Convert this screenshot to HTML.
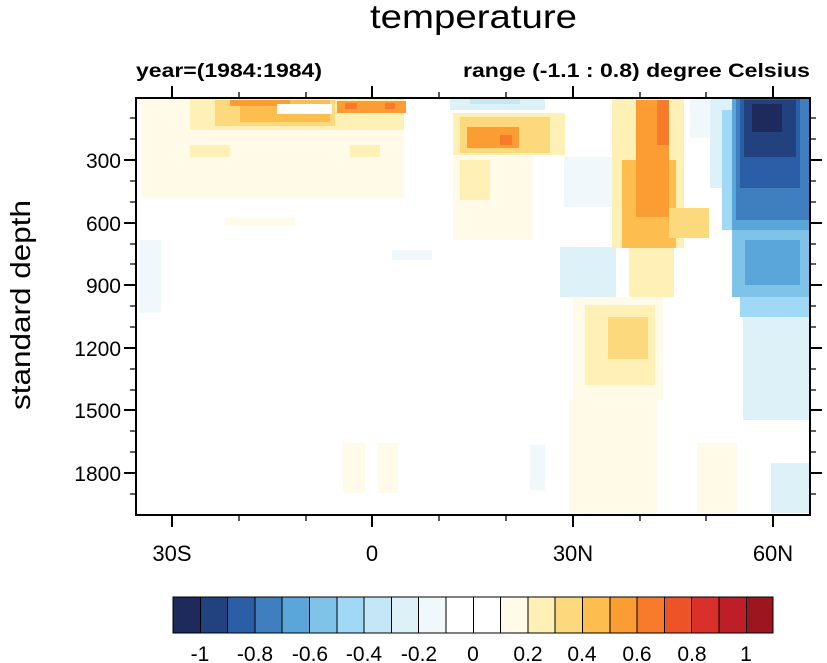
<!DOCTYPE html><html><head><style>body{margin:0;background:#fff}svg{display:block}text{font-family:"Liberation Sans",Arial,sans-serif}</style></head><body>
<svg width="827" height="663" xmlns="http://www.w3.org/2000/svg">
<text x="370" y="28" font-size="33" textLength="207" lengthAdjust="spacingAndGlyphs">temperature</text>
<text x="136" y="77" font-size="19" font-weight="bold" textLength="186" lengthAdjust="spacingAndGlyphs">year=(1984:1984)</text>
<text x="463" y="77" font-size="19" font-weight="bold" textLength="347" lengthAdjust="spacingAndGlyphs">range (-1.1 : 0.8) degree Celsius</text>
<g shape-rendering="crispEdges">
<rect x="142" y="98" width="262" height="100" fill="#fffbe8"/>
<rect x="190" y="98" width="214" height="32" fill="#fff0b5"/>
<rect x="215" y="100" width="120" height="26" fill="#fdd97d"/>
<rect x="240" y="100" width="90" height="22" fill="#fdbd4f"/>
<rect x="230" y="100" width="60" height="6" fill="#fb9d33"/>
<rect x="277" y="104" width="55" height="10" fill="#fff"/>
<rect x="337" y="101" width="69" height="12" fill="#fb9d33"/>
<rect x="345" y="103" width="12" height="6" fill="#f77b2a"/>
<rect x="385" y="103" width="10" height="6" fill="#f77b2a"/>
<rect x="190" y="145" width="40" height="12" fill="#fff0b5"/>
<rect x="350" y="145" width="30" height="12" fill="#fff0b5"/>
<rect x="225" y="218" width="70" height="8" fill="#fffbe8"/>
<rect x="139" y="240" width="22" height="73" fill="#f0f8fc"/>
<rect x="392" y="250" width="40" height="10" fill="#f0f8fc"/>
<rect x="450" y="98" width="95" height="12" fill="#ddf1f8"/>
<rect x="470" y="98" width="50" height="6" fill="#c3e7f7"/>
<rect x="453" y="155" width="80" height="85" fill="#fffbe8"/>
<rect x="460" y="160" width="30" height="40" fill="#fff0b5"/>
<rect x="453" y="113" width="112" height="42" fill="#fff0b5"/>
<rect x="460" y="117" width="90" height="36" fill="#fdd97d"/>
<rect x="467" y="127" width="52" height="21" fill="#fb9d33"/>
<rect x="500" y="135" width="12" height="10" fill="#f77b2a"/>
<rect x="564" y="157" width="52" height="50" fill="#f0f8fc"/>
<rect x="560" y="247" width="56" height="50" fill="#ddf1f8"/>
<rect x="569" y="400" width="88" height="115" fill="#fffbe8"/>
<rect x="573" y="297" width="90" height="103" fill="#fffbe8"/>
<rect x="585" y="305" width="70" height="80" fill="#fff0b5"/>
<rect x="608" y="317" width="40" height="42" fill="#fdd97d"/>
<rect x="697" y="443" width="40" height="72" fill="#fffbe8"/>
<rect x="343" y="443" width="22" height="50" fill="#fffbe8"/>
<rect x="378" y="443" width="20" height="50" fill="#fffbe8"/>
<rect x="612" y="98" width="72" height="150" fill="#fff0b5"/>
<rect x="629" y="247" width="45" height="50" fill="#fff0b5"/>
<rect x="622" y="160" width="54" height="88" fill="#fdbd4f"/>
<rect x="636" y="100" width="33" height="117" fill="#fb9d33"/>
<rect x="657" y="100" width="12" height="45" fill="#f77b2a"/>
<rect x="669" y="208" width="40" height="30" fill="#fdd97d"/>
<rect x="690" y="98" width="50" height="40" fill="#f0f8fc"/>
<rect x="710" y="98" width="30" height="90" fill="#ddf1f8"/>
<rect x="722" y="110" width="20" height="120" fill="#a0d9f5"/>
<rect x="743" y="317" width="67" height="103" fill="#ddf1f8"/>
<rect x="740" y="297" width="70" height="20" fill="#a0d9f5"/>
<rect x="732" y="230" width="78" height="67" fill="#7fc3e8"/>
<rect x="745" y="240" width="55" height="45" fill="#5aa5d9"/>
<rect x="732" y="98" width="78" height="132" fill="#5aa5d9"/>
<rect x="736" y="98" width="74" height="122" fill="#3f7fc0"/>
<rect x="740" y="98" width="60" height="90" fill="#2a5fa8"/>
<rect x="744" y="100" width="52" height="57" fill="#21427f"/>
<rect x="752" y="104" width="30" height="28" fill="#1e2a5c"/>
<rect x="771" y="463" width="39" height="50" fill="#ddf1f8"/>
<rect x="530" y="445" width="15" height="45" fill="#f0f8fc"/>
</g>
<rect x="136" y="98" width="674" height="417" fill="none" stroke="#000" stroke-width="2"/>
<g stroke="#000" stroke-width="2">
<path d="M124 160h12M124 223h12M124 285h12M124 348h12M124 410h12M124 473h12M810 160h12M810 223h12M810 285h12M810 348h12M810 410h12M810 473h12"/>
<path d="M172 515v12M372 515v12M573 515v12M773 515v12M172 98v-12M372 98v-12M573 98v-12M773 98v-12"/>
</g>
<g stroke="#000" stroke-width="1.3">
<path d="M130 118h6M130 139h6M130 181h6M130 202h6M130 244h6M130 264h6M130 306h6M130 327h6M130 369h6M130 390h6M130 431h6M130 452h6M130 494h6M810 118h6M810 139h6M810 181h6M810 202h6M810 244h6M810 264h6M810 306h6M810 327h6M810 369h6M810 390h6M810 431h6M810 452h6M810 494h6"/>
<path d="M239 515v6M306 515v6M439 515v6M506 515v6M640 515v6M706 515v6M239 98v-6M306 98v-6M439 98v-6M506 98v-6M640 98v-6M706 98v-6"/>
</g>
<g font-size="21" text-anchor="end">
<text x="121" y="168">300</text><text x="121" y="231">600</text><text x="121" y="293">900</text><text x="121" y="356">1200</text><text x="121" y="418">1500</text><text x="121" y="481">1800</text>
</g>
<text transform="translate(30,410) rotate(-90)" font-size="28" textLength="210" lengthAdjust="spacingAndGlyphs">standard depth</text>
<g font-size="22" text-anchor="middle">
<text x="172" y="561">30S</text><text x="372" y="561">0</text><text x="573" y="561">30N</text><text x="773" y="561">60N</text>
</g>
<g stroke="#000" stroke-width="1" shape-rendering="crispEdges">
<rect x="173" y="597" width="27.3" height="36" fill="#1e2a5c"/><rect x="200.3" y="597" width="27.3" height="36" fill="#21427f"/><rect x="227.6" y="597" width="27.3" height="36" fill="#2a5fa8"/><rect x="254.9" y="597" width="27.3" height="36" fill="#3f7fc0"/><rect x="282.2" y="597" width="27.3" height="36" fill="#5aa5d9"/><rect x="309.5" y="597" width="27.3" height="36" fill="#7fc3e8"/><rect x="336.8" y="597" width="27.3" height="36" fill="#a0d9f5"/><rect x="364.1" y="597" width="27.3" height="36" fill="#c3e7f7"/><rect x="391.4" y="597" width="27.3" height="36" fill="#ddf1f8"/><rect x="418.7" y="597" width="27.3" height="36" fill="#f0f8fc"/><rect x="446" y="597" width="27.3" height="36" fill="#fff"/><rect x="473.3" y="597" width="27.3" height="36" fill="#fff"/><rect x="500.6" y="597" width="27.3" height="36" fill="#fffbe8"/><rect x="527.9" y="597" width="27.3" height="36" fill="#fff0b5"/><rect x="555.2" y="597" width="27.3" height="36" fill="#fdd97d"/><rect x="582.5" y="597" width="27.3" height="36" fill="#fdbd4f"/><rect x="609.8" y="597" width="27.3" height="36" fill="#fb9d33"/><rect x="637.1" y="597" width="27.3" height="36" fill="#f77b2a"/><rect x="664.4" y="597" width="27.3" height="36" fill="#ec5327"/><rect x="691.7" y="597" width="27.3" height="36" fill="#d9302a"/><rect x="719" y="597" width="27.3" height="36" fill="#bd1e28"/><rect x="746.3" y="597" width="26.7" height="36" fill="#9c1620"/>
</g>
<g font-size="21" text-anchor="middle">
<text x="200" y="661">-1</text><text x="255" y="661">-0.8</text><text x="310" y="661">-0.6</text><text x="364" y="661">-0.4</text><text x="419" y="661">-0.2</text><text x="473" y="661">0</text><text x="528" y="661">0.2</text><text x="582" y="661">0.4</text><text x="637" y="661">0.6</text><text x="692" y="661">0.8</text><text x="746" y="661">1</text>
</g>
</svg></body></html>
